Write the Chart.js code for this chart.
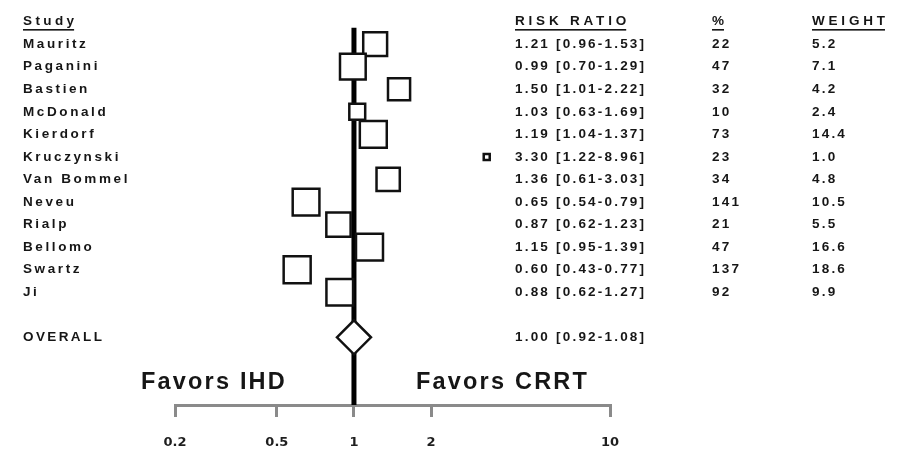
<!DOCTYPE html>
<html>
<head>
<meta charset="utf-8">
<script src="https://cdn.jsdelivr.net/npm/chart.js@4.4.0/dist/chart.umd.min.js"></script>
<style>
  html, body { margin: 0; padding: 0; background: #fff; }
  #wrap { width: 901px; height: 453px; position: relative; }
</style>
</head>
<body>
<div id="wrap"><canvas id="forest"></canvas></div>
<script>
// values
const studies = ['Mauritz', 'Paganini', 'Bastien', 'McDonald', 'Kierdorf', 'Kruczynski',
  'Van Bommel', 'Neveu', 'Rialp', 'Bellomo', 'Swartz', 'Ji'];
const riskRatio = [1.21, 0.99, 1.50, 1.03, 1.19, 3.30, 1.36, 0.65, 0.87, 1.15, 0.60, 0.88];
const ciLow = [0.96, 0.70, 1.01, 0.63, 1.04, 1.22, 0.61, 0.54, 0.62, 0.95, 0.43, 0.62];
const ciHigh = [1.53, 1.29, 2.22, 1.69, 1.37, 8.96, 3.03, 0.79, 1.23, 1.39, 0.77, 1.27];
const percent = [22, 47, 32, 10, 73, 23, 34, 141, 21, 47, 137, 92];
const weight = [5.2, 7.1, 4.2, 2.4, 14.4, 1.0, 4.8, 10.5, 5.5, 16.6, 18.6, 9.9];

const overallLabel = 'OVERALL';
const overallRR = 1.00;
const overallLow = 0.92;
const overallHigh = 1.08;

const xTicks = [0.2, 0.5, 1, 2, 10];
const headers = ['Study', 'RISK RATIO', '%', 'WEIGHT'];
const favors = ['Favors IHD', 'Favors CRRT'];

// row layout: header on row 0, studies 1..12, a gap, overall, then the "favors" line
const overallRow = studies.length + 2;
const favorsRow = overallRow + 2;
const axisRow = favorsRow + 1;

const fmt = (rr, lo, hi) => `${rr.toFixed(2)} [${lo.toFixed(2)}-${hi.toFixed(2)}]`;

// box side grows with weight, saturating like in the figure
const boxSide = w => 6 + 21 * (1 - Math.exp(-(w - 1) / 2.2));

const TEXT = '#161616';
const FONT = '"Liberation Sans", Arial, sans-serif';

const tablePlugin = {
  id: 'table',
  afterDraw(chart) {
    const ctx = chart.ctx;
    const ys = chart.scales.y;
    const xs = chart.scales.x;
    const colName = 23, colRR = 515, colPct = 712, colW = 812;

    ctx.save();
    ctx.fillStyle = TEXT;
    ctx.textBaseline = 'middle';
    const put = (txt, px, py, size, spacing, align, underline) => {
      ctx.font = `bold ${size}px ${FONT}`;
      ctx.letterSpacing = spacing + 'px';
      ctx.textAlign = align || 'left';
      ctx.fillText(txt, px, py);
      if (underline) {
        const w = ctx.measureText(txt).width - spacing;
        ctx.fillRect(px, py + size * 0.55, w, 1.6);
      }
    };

    const hy = ys.getPixelForValue(0);
    put(headers[0], colName, hy, 13.5, 3.4, 'left', true);
    put(headers[1], colRR, hy, 13.5, 3.8, 'left', true);
    put(headers[2], colPct, hy, 13.5, 2, 'left', true);
    put(headers[3], colW, hy, 13.5, 3.8, 'left', true);

    studies.forEach((s, i) => {
      const py = ys.getPixelForValue(i + 1);
      put(s, colName, py, 13.5, 2.6);
      put(fmt(riskRatio[i], ciLow[i], ciHigh[i]), colRR, py, 13.5, 2.2);
      put(String(percent[i]), colPct, py, 13.5, 2.2);
      put(weight[i].toFixed(1), colW, py, 13.5, 2.2);
    });

    const oy = ys.getPixelForValue(overallRow);
    put(overallLabel, colName, oy, 13.5, 2.4);
    put(fmt(overallRR, overallLow, overallHigh), colRR, oy, 13.5, 2.2);

    const one = xs.getPixelForValue(1);
    const fy = ys.getPixelForValue(favorsRow);
    put(favors[0], one - 67, fy, 23.5, 2.2, 'right');
    put(favors[1], one + 62, fy, 23.5, 2.2, 'left');
    ctx.restore();
  }
};

new Chart(document.getElementById('forest'), {
  type: 'scatter',
  data: {
    datasets: [
      {
        // line of no effect
        data: [{ x: 1, y: 0.27 }, { x: 1, y: axisRow }],
        showLine: true,
        borderColor: '#000',
        borderWidth: 5,
        pointRadius: 0,
        clip: false,
        order: 3
      },
      {
        data: studies.map((s, i) => ({ x: riskRatio[i], y: i + 1 })),
        pointStyle: 'rect',
        pointRadius: c => boxSide(weight[c.dataIndex]) / Math.SQRT2,
        backgroundColor: '#fff',
        borderColor: '#111',
        borderWidth: 2.5,
        order: 1
      },
      {
        data: [{ x: overallRR, y: overallRow }],
        pointStyle: 'rectRot',
        pointRadius: 17,
        backgroundColor: '#fff',
        borderColor: '#111',
        borderWidth: 2.5,
        order: 0
      }
    ]
  },
  options: {
    responsive: true,
    maintainAspectRatio: false,
    animation: false,
    events: [],
    layout: { padding: { left: 175, right: 291, top: 17, bottom: 4 } },
    plugins: { legend: { display: false }, tooltip: { enabled: false } },
    scales: {
      x: {
        type: 'logarithmic',
        min: 0.2,
        max: 10,
        afterBuildTicks: s => { s.ticks = xTicks.map(v => ({ value: v })); },
        afterFit: s => { s.height = 44; },
        ticks: {
          callback: v => String(v),
          autoSkip: false,
          maxRotation: 0,
          padding: 18,
          color: '#1e1e1e',
          font: { family: '"DejaVu Sans", sans-serif', weight: 'bold', size: 13 }
        },
        grid: { drawOnChartArea: false, drawTicks: true, tickLength: 12, color: '#8a8a8a', lineWidth: 3 },
        border: { color: '#8a8a8a', width: 3 }
      },
      y: {
        type: 'linear',
        reverse: true,
        min: 0,
        max: axisRow,
        display: false
      }
    }
  },
  plugins: [tablePlugin]
});
</script>
</body>
</html>
